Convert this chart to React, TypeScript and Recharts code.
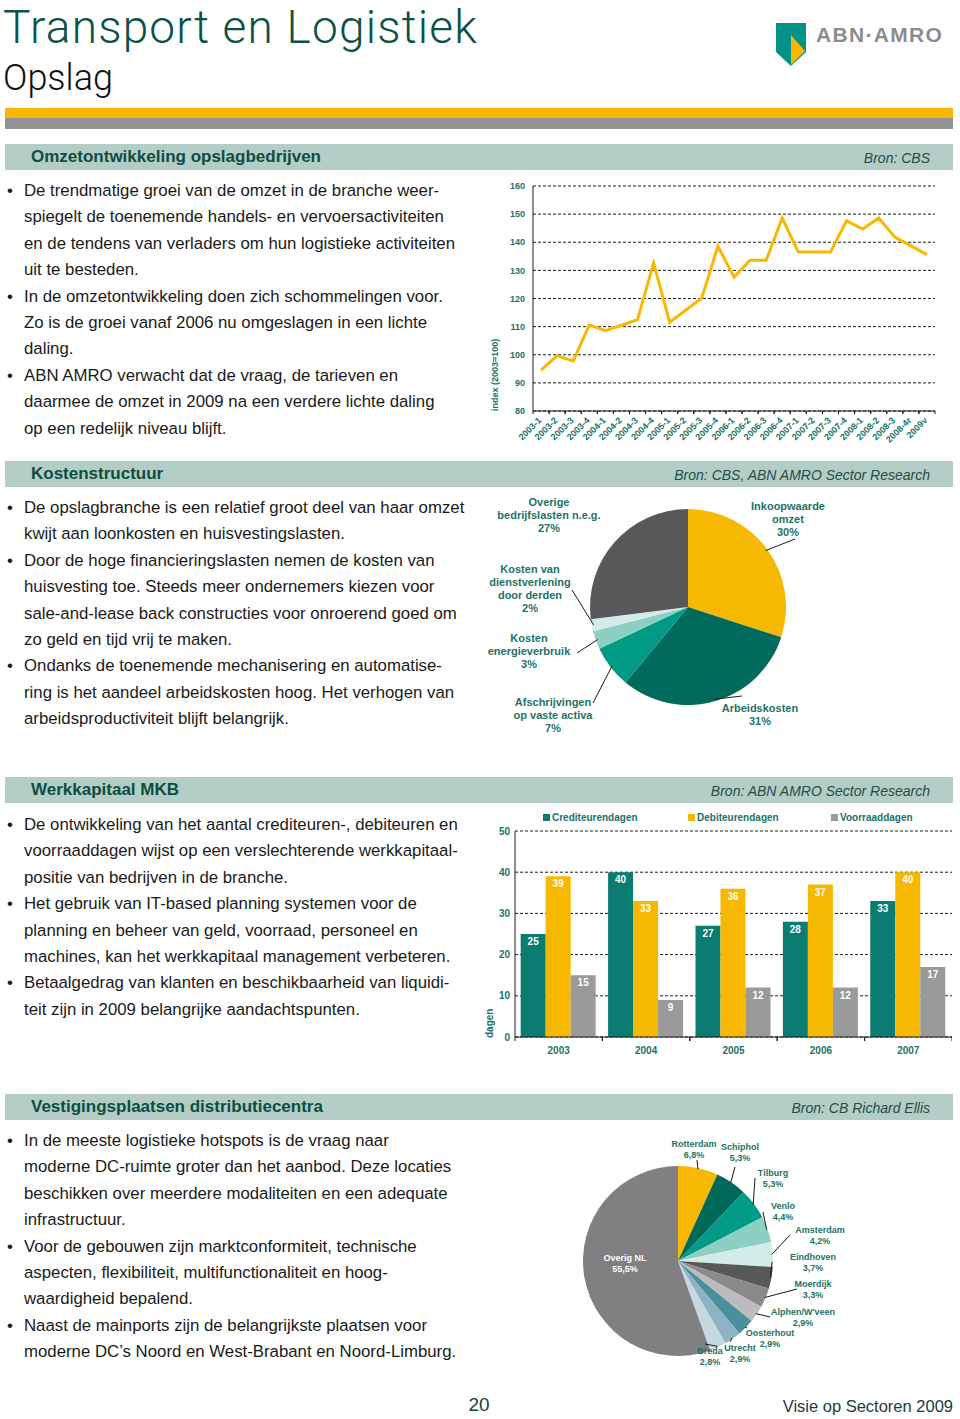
import React from 'react';
import {
  LineChart,
  Line,
  BarChart,
  Bar,
  LabelList,
  PieChart,
  Pie,
  Cell,
  XAxis,
  YAxis,
  CartesianGrid,
} from 'recharts';

// ---- data ----
const QUARTERS = [
  '2003-1', '2003-2', '2003-3', '2003-4',
  '2004-1', '2004-2', '2004-3', '2004-4',
  '2005-1', '2005-2', '2005-3', '2005-4',
  '2006-1', '2006-2', '2006-3', '2006-4',
  '2007-1', '2007-2', '2007-3', '2007-4',
  '2008-1', '2008-2', '2008-3', '2008-4r', '2009v',
];
const OMZET_INDEX = [
  94.5, 99.7, 97.7, 110.6,
  108.6, 110.5, 112.5, 132.6,
  111.6, 115.8, 120.2, 138.6,
  127.6, 133.6, 133.6, 148.6,
  136.5, 136.5, 136.5, 147.6,
  144.7, 148.6, 141.8, 138.7, 135.6,
];
const INDEX_TICKS = [80, 90, 100, 110, 120, 130, 140, 150, 160];

const COST_NAMES = [
  'Inkoopwaarde\nomzet',
  'Arbeidskosten',
  'Afschrijvingen\nop vaste activa',
  'Kosten\nenergieverbruik',
  'Kosten van\ndienstverlening\ndoor derden',
  'Overige\nbedrijfslasten n.e.g.',
];
const COST_SHARES = [30, 31, 7, 3, 2, 27];

const YEARS = ['2003', '2004', '2005', '2006', '2007'];
const CREDITEUREN = [25, 40, 27, 28, 33];
const DEBITEUREN = [39, 33, 36, 37, 40];
const VOORRAAD = [15, 9, 12, 12, 17];
const DAGEN_TICKS = [0, 10, 20, 30, 40, 50];

const DC_PLACES = [
  'Rotterdam', 'Schiphol', 'Tilburg', 'Venlo', 'Amsterdam', 'Eindhoven',
  'Moerdijk', "Alphen/W'veen", 'Oosterhout', 'Utrecht', 'Breda', 'Overig NL',
];
const DC_SHARES = [6.8, 5.3, 5.3, 4.4, 4.2, 3.7, 3.3, 2.9, 2.9, 2.9, 2.8, 55.5];

// ---- styling ----
const SANS = "'Liberation Sans', Arial, sans-serif";
const TEAL_TEXT = '#1d7266';
const HEAD_GREEN = '#0c4e42';
const YELLOW = '#f6b800';

const COST_COLORS = ['#f6b800', '#006b5c', '#009a85', '#8dcfc3', '#d3ece7', '#58585a'];
const DC_COLORS = [
  '#f6b800', '#00695a', '#009a85', '#8dcfc3', '#d3ece7', '#58585a',
  '#8a8a8c', '#bcbcbe', '#4a8f9c', '#8fb3c4', '#c7d9e0', '#808082',
];
const BAR_COLORS = { cred: '#0a7c72', deb: '#f6b800', voor: '#9a9a9a' };

// label placement (chart-local coords)
const COST_LABEL_POS = [
  { x: 308, y: 20, lx: 315, ly: 49 },
  { x: 280, y: 222, lx: 262, ly: 206 },
  { x: 73, y: 216, lx: 113, ly: 213 },
  { x: 49, y: 152, lx: 97, ly: 163 },
  { x: 50, y: 83, lx: 92, ly: 100 },
  { x: 69, y: 16, lx: null, ly: null },
];
const DC_LABEL_POS = [
  { x: 124, y: 17, lx: 127, ly: 30 },
  { x: 170, y: 20, lx: 165, ly: 37 },
  { x: 203, y: 46, lx: 185, ly: 48 },
  { x: 213, y: 79, lx: 193, ly: 82 },
  { x: 250, y: 103, lx: 220, ly: 105 },
  { x: 243, y: 130, lx: 202, ly: 132 },
  { x: 243, y: 157, lx: 227, ly: 159 },
  { x: 233, y: 185, lx: 200, ly: 187 },
  { x: 200, y: 206, lx: 177, ly: 198 },
  { x: 170, y: 221, lx: 160, ly: 212 },
  { x: 140, y: 224, lx: 135, ly: 214 },
  { x: 55, y: 131, lx: null, ly: null },
];

const LINE_W = 470;
const LINE_YAXIS_W = 53;
const LINE_RIGHT = 15;
const LINE_STEP = (LINE_W - LINE_YAXIS_W - LINE_RIGHT) / QUARTERS.length;

const BAR_W = 472;
const BAR_YAXIS_W = 35;
const BAR_STEP = (BAR_W - BAR_YAXIS_W) / YEARS.length;

const SECTIONS = [
  {
    top: 144,
    title: 'Omzetontwikkeling opslagbedrijven',
    bron: 'Bron: CBS',
    textTop: 178,
    lines: [
      ['•', 'De trendmatige groei van de omzet in de branche weer-'],
      ['', 'spiegelt de toenemende handels- en vervoersactiviteiten'],
      ['', 'en de tendens van verladers om hun logistieke activiteiten'],
      ['', 'uit te besteden.'],
      ['•', 'In de omzetontwikkeling doen zich schommelingen voor.'],
      ['', 'Zo is de groei vanaf 2006 nu omgeslagen in een lichte'],
      ['', 'daling.'],
      ['•', 'ABN AMRO verwacht dat de vraag, de tarieven en'],
      ['', 'daarmee de omzet in 2009 na een verdere lichte daling'],
      ['', 'op een redelijk niveau blijft.'],
    ],
  },
  {
    top: 461,
    title: 'Kostenstructuur',
    bron: 'Bron: CBS, ABN AMRO Sector Research',
    textTop: 495,
    lines: [
      ['•', 'De opslagbranche is een relatief groot deel van haar omzet'],
      ['', 'kwijt aan loonkosten en huisvestingslasten.'],
      ['•', 'Door de hoge financieringslasten nemen de kosten van'],
      ['', 'huisvesting toe. Steeds meer ondernemers kiezen voor'],
      ['', 'sale-and-lease back constructies voor onroerend goed om'],
      ['', 'zo geld en tijd vrij te maken.'],
      ['•', 'Ondanks de toenemende mechanisering en automatise-'],
      ['', 'ring is het aandeel arbeidskosten hoog. Het verhogen van'],
      ['', 'arbeidsproductiviteit blijft belangrijk.'],
    ],
  },
  {
    top: 777,
    title: 'Werkkapitaal MKB',
    bron: 'Bron: ABN AMRO Sector Research',
    textTop: 812,
    lines: [
      ['•', 'De ontwikkeling van het aantal crediteuren-, debiteuren en'],
      ['', 'voorraaddagen wijst op een verslechterende werkkapitaal-'],
      ['', 'positie van bedrijven in de branche.'],
      ['•', 'Het gebruik van IT-based planning systemen voor de'],
      ['', 'planning en beheer van geld, voorraad, personeel en'],
      ['', 'machines, kan het werkkapitaal management verbeteren.'],
      ['•', 'Betaalgedrag van klanten en beschikbaarheid van liquidi-'],
      ['', 'teit zijn in 2009 belangrijke aandachtspunten.'],
    ],
  },
  {
    top: 1094,
    title: 'Vestigingsplaatsen distributiecentra',
    bron: 'Bron: CB Richard Ellis',
    textTop: 1128,
    lines: [
      ['•', 'In de meeste logistieke hotspots is de vraag naar'],
      ['', 'moderne DC-ruimte groter dan het aanbod. Deze locaties'],
      ['', 'beschikken over meerdere modaliteiten en een adequate'],
      ['', 'infrastructuur.'],
      ['•', 'Voor de gebouwen zijn marktconformiteit, technische'],
      ['', 'aspecten, flexibiliteit, multifunctionaliteit en hoog-'],
      ['', 'waardigheid bepalend.'],
      ['•', 'Naast de mainports zijn de belangrijkste plaatsen voor'],
      ['', "moderne DC’s Noord en West-Brabant en Noord-Limburg."],
    ],
  },
];

const RAD = Math.PI / 180;

function edgePoint(p: any, r: number) {
  return {
    x: p.cx + r * Math.cos(-p.midAngle * RAD),
    y: p.cy + r * Math.sin(-p.midAngle * RAD),
  };
}

function CostLabel(p: any) {
  const cfg = COST_LABEL_POS[p.index];
  const s = edgePoint(p, p.outerRadius - 2);
  const lines = [...COST_NAMES[p.index].split('\n'), `${COST_SHARES[p.index]}%`];
  return (
    <g key={`cl-${p.index}`}>
      {cfg.lx !== null && (
        <line x1={s.x} y1={s.y} x2={cfg.lx} y2={cfg.ly} stroke="#1a1a1a" strokeWidth={1} />
      )}
      <text x={cfg.x} y={cfg.y} textAnchor="middle" fill={TEAL_TEXT} fontSize={11} fontWeight="bold">
        {lines.map((l, i) => (
          <tspan key={i} x={cfg.x} dy={i === 0 ? 0 : 13}>
            {l}
          </tspan>
        ))}
      </text>
    </g>
  );
}

function DcLabel(p: any) {
  const cfg = DC_LABEL_POS[p.index];
  const s = edgePoint(p, p.outerRadius - 1);
  const inside = cfg.lx === null;
  const pct = DC_SHARES[p.index].toFixed(1).replace('.', ',') + '%';
  return (
    <g key={`dl-${p.index}`}>
      {!inside && (
        <line x1={s.x} y1={s.y} x2={cfg.lx} y2={cfg.ly} stroke="#1a1a1a" strokeWidth={1} />
      )}
      <text
        x={cfg.x}
        y={cfg.y}
        textAnchor="middle"
        fill={inside ? '#ffffff' : TEAL_TEXT}
        fontSize={9}
        fontWeight="bold"
      >
        <tspan x={cfg.x} dy={0}>{DC_PLACES[p.index]}</tspan>
        <tspan x={cfg.x} dy={11}>{pct}</tspan>
      </text>
    </g>
  );
}

function QuarterTick(props: any) {
  const { x, y, payload } = props;
  return (
    <g>
      <line x1={x - LINE_STEP / 2} x2={x - LINE_STEP / 2} y1={y} y2={y + 3} stroke="#1a1a1a" />
      <line x1={x + LINE_STEP / 2} x2={x + LINE_STEP / 2} y1={y} y2={y + 3} stroke="#1a1a1a" />
      <text
        x={x + 1}
        y={y + 10}
        textAnchor="end"
        transform={`rotate(-45 ${x + 1} ${y + 10})`}
        fontSize={9}
        fontWeight="bold"
        fill={TEAL_TEXT}
      >
        {payload.value}
      </text>
    </g>
  );
}

function YearTick(props: any) {
  const { x, y, payload } = props;
  return (
    <g>
      <line x1={x - BAR_STEP / 2} x2={x - BAR_STEP / 2} y1={y} y2={y + 4} stroke="#1a1a1a" />
      <line x1={x + BAR_STEP / 2} x2={x + BAR_STEP / 2} y1={y} y2={y + 4} stroke="#1a1a1a" />
      <text x={x} y={y + 17} textAnchor="middle" fontSize={10} fontWeight="bold" fill={TEAL_TEXT}>
        {payload.value}
      </text>
    </g>
  );
}

function SectionHeader({ top, title, bron }: { top: number; title: string; bron: string }) {
  return (
    <div
      style={{
        position: 'absolute',
        left: 5,
        top,
        width: 948,
        height: 26,
        background: '#b4cdc7',
      }}
    >
      <div
        style={{
          position: 'absolute',
          left: 26,
          top: 0,
          lineHeight: '26px',
          fontSize: 17,
          fontWeight: 'bold',
          color: HEAD_GREEN,
          whiteSpace: 'nowrap',
        }}
      >
        {title}
      </div>
      <div
        style={{
          position: 'absolute',
          right: 23,
          top: 1,
          lineHeight: '26px',
          fontSize: 14,
          fontStyle: 'italic',
          color: '#244d46',
          whiteSpace: 'nowrap',
        }}
      >
        {bron}
      </div>
    </div>
  );
}

function BulletText({ top, lines }: { top: number; lines: string[][] }) {
  return (
    <>
      {lines.map(([b, t], i) => (
        <div
          key={i}
          style={{
            position: 'absolute',
            left: 0,
            top: top + i * 26.4,
            lineHeight: '26.4px',
            fontSize: 16.8,
            color: '#1a1a1a',
            whiteSpace: 'nowrap',
          }}
        >
          <span style={{ position: 'absolute', left: 7 }}>{b}</span>
          <span style={{ position: 'absolute', left: 24 }}>{t}</span>
        </div>
      ))}
    </>
  );
}

function AxisTitle({ left, top, text, size }: { left: number; top: number; text: string; size: number }) {
  return (
    <div
      style={{
        position: 'absolute',
        left,
        top,
        transform: 'rotate(-90deg)',
        transformOrigin: '0 0',
        whiteSpace: 'nowrap',
        fontSize: size,
        lineHeight: `${size + 2}px`,
        fontWeight: 'bold',
        color: TEAL_TEXT,
      }}
    >
      {text}
    </div>
  );
}

export default function App() {
  const indexData = QUARTERS.map((q, i) => ({ q, v: OMZET_INDEX[i] }));
  const costData = COST_NAMES.map((n, i) => ({ name: n, value: COST_SHARES[i] }));
  const dagenData = YEARS.map((y, i) => ({
    year: y,
    cred: CREDITEUREN[i],
    deb: DEBITEUREN[i],
    voor: VOORRAAD[i],
  }));
  const dcData = DC_PLACES.map((n, i) => ({ name: n, value: DC_SHARES[i] }));

  const legendItems = [
    { key: 'cred', label: 'Crediteurendagen', left: 543 },
    { key: 'deb', label: 'Debiteurendagen', left: 688 },
    { key: 'voor', label: 'Voorraaddagen', left: 831 },
  ] as const;

  return (
    <div
      style={{
        position: 'absolute',
        left: 0,
        top: 0,
        width: 960,
        height: 1419,
        background: '#ffffff',
        fontFamily: SANS,
        overflow: 'hidden',
      }}
    >
      {/* page header */}
      <div
        style={{
          position: 'absolute',
          left: 3,
          top: 0,
          fontFamily: 'Roboto, sans-serif',
          fontWeight: 300,
          fontSize: 46,
          lineHeight: 'normal',
          letterSpacing: 1.2,
          color: '#0b5247',
          whiteSpace: 'nowrap',
        }}
      >
        Transport en Logistiek
      </div>
      <div
        style={{
          position: 'absolute',
          left: 3,
          top: 60,
          fontFamily: 'Roboto, sans-serif',
          fontWeight: 300,
          fontSize: 36,
          lineHeight: '36px',
          color: '#111',
          whiteSpace: 'nowrap',
        }}
      >
        Opslag
      </div>
      <svg style={{ position: 'absolute', left: 770, top: 15 }} width={50} height={55}>
        <polygon points="6,8 36,8 36,37 21,51 6,37" fill="#009286" />
        <polygon points="21,20 35,36 21,50" fill={YELLOW} />
      </svg>
      <div
        style={{
          position: 'absolute',
          left: 816,
          top: 22,
          fontSize: 21,
          lineHeight: '26px',
          fontWeight: 'bold',
          color: '#8c8c8e',
          letterSpacing: 1.3,
          whiteSpace: 'nowrap',
        }}
      >
        ABN·AMRO
      </div>
      <div style={{ position: 'absolute', left: 5, top: 108, width: 948, height: 10, background: YELLOW }} />
      <div style={{ position: 'absolute', left: 5, top: 118, width: 948, height: 11, background: '#939395' }} />

      {SECTIONS.map((s) => (
        <React.Fragment key={s.title}>
          <SectionHeader top={s.top} title={s.title} bron={s.bron} />
          <BulletText top={s.textTop} lines={s.lines} />
        </React.Fragment>
      ))}

      {/* omzet index line chart */}
      <div style={{ position: 'absolute', left: 480, top: 175 }}>
        <LineChart
          width={LINE_W}
          height={275}
          data={indexData}
          margin={{ top: 11, right: LINE_RIGHT, bottom: 0, left: 0 }}
        >
          <CartesianGrid vertical={false} stroke="#1a1a1a" strokeDasharray="3 2" />
          <XAxis
            dataKey="q"
            interval={0}
            height={39}
            padding={{ left: LINE_STEP / 2, right: LINE_STEP / 2 }}
            tickSize={0}
            tickMargin={0}
            tick={<QuarterTick />}
            axisLine={{ stroke: '#1a1a1a' }}
            tickLine={false}
          />
          <YAxis
            width={LINE_YAXIS_W}
            domain={[80, 160]}
            ticks={INDEX_TICKS}
            tick={{ fill: TEAL_TEXT, fontSize: 9, fontWeight: 'bold' }}
            tickLine={false}
            axisLine={{ stroke: '#1a1a1a' }}
          />
          <Line
            type="linear"
            dataKey="v"
            stroke={YELLOW}
            strokeWidth={3}
            dot={false}
            isAnimationActive={false}
          />
        </LineChart>
      </div>
      <AxisTitle left={490} top={411} text="index (2003=100)" size={9} />

      {/* kostenstructuur pie */}
      <div style={{ position: 'absolute', left: 480, top: 490 }}>
        <PieChart width={370} height={255}>
          <Pie
            data={costData}
            dataKey="value"
            cx={203}
            cy={112}
            outerRadius={98}
            startAngle={90}
            endAngle={-270}
            stroke="none"
            label={CostLabel}
            labelLine={false}
            isAnimationActive={false}
          >
            {costData.map((d, i) => (
              <Cell key={d.name} fill={COST_COLORS[i]} />
            ))}
          </Pie>
        </PieChart>
      </div>

      {/* werkkapitaal bar chart */}
      {legendItems.map((l) => (
        <div
          key={l.key}
          style={{
            position: 'absolute',
            left: l.left,
            top: 811,
            fontSize: 10,
            lineHeight: '14px',
            fontWeight: 'bold',
            color: TEAL_TEXT,
            whiteSpace: 'nowrap',
          }}
        >
          <span
            style={{
              display: 'inline-block',
              width: 7,
              height: 7,
              marginRight: 2,
              background: BAR_COLORS[l.key],
            }}
          />
          {l.label}
        </div>
      ))}
      <div style={{ position: 'absolute', left: 480, top: 805 }}>
        <BarChart
          width={BAR_W}
          height={255}
          data={dagenData}
          margin={{ top: 26, right: 0, bottom: 0, left: 0 }}
          barCategoryGap="6.5%"
          barGap={0}
        >
          <CartesianGrid vertical={false} stroke="#1a1a1a" strokeDasharray="3 2" />
          <XAxis
            dataKey="year"
            height={23}
            tickSize={0}
            tickMargin={0}
            tick={<YearTick />}
            axisLine={{ stroke: '#1a1a1a' }}
            tickLine={false}
          />
          <YAxis
            width={BAR_YAXIS_W}
            domain={[0, 50]}
            ticks={DAGEN_TICKS}
            tick={{ fill: TEAL_TEXT, fontSize: 10, fontWeight: 'bold' }}
            tickLine={false}
            tickSize={3}
            tickMargin={2}
            axisLine={{ stroke: '#1a1a1a' }}
          />
          <Bar dataKey="cred" fill={BAR_COLORS.cred} isAnimationActive={false}>
            <LabelList dataKey="cred" position="insideTop" offset={4} fill="#fff" fontSize={10} fontWeight="bold" />
          </Bar>
          <Bar dataKey="deb" fill={BAR_COLORS.deb} isAnimationActive={false}>
            <LabelList dataKey="deb" position="insideTop" offset={4} fill="#fff" fontSize={10} fontWeight="bold" />
          </Bar>
          <Bar dataKey="voor" fill={BAR_COLORS.voor} isAnimationActive={false}>
            <LabelList dataKey="voor" position="insideTop" offset={4} fill="#fff" fontSize={10} fontWeight="bold" />
          </Bar>
        </BarChart>
      </div>
      <AxisTitle left={484} top={1038} text="dagen" size={10} />

      {/* distributiecentra pie */}
      <div style={{ position: 'absolute', left: 570, top: 1130 }}>
        <PieChart width={280} height={245}>
          <Pie
            data={dcData}
            dataKey="value"
            cx={103}
            cy={126}
            outerRadius={95}
            startAngle={90}
            endAngle={-270}
            stroke="none"
            label={DcLabel}
            labelLine={false}
            isAnimationActive={false}
          >
            {dcData.map((d, i) => (
              <Cell key={d.name} fill={DC_COLORS[i]} />
            ))}
          </Pie>
        </PieChart>
      </div>

      {/* footer */}
      <div
        style={{
          position: 'absolute',
          left: 0,
          width: 958,
          top: 1394,
          textAlign: 'center',
          fontSize: 19,
          lineHeight: '22px',
          color: '#1c3c37',
        }}
      >
        20
      </div>
      <div
        style={{
          position: 'absolute',
          right: 7,
          top: 1395,
          fontSize: 16.5,
          lineHeight: '22px',
          color: '#1c3c37',
          whiteSpace: 'nowrap',
        }}
      >
        Visie op Sectoren 2009
      </div>
    </div>
  );
}
